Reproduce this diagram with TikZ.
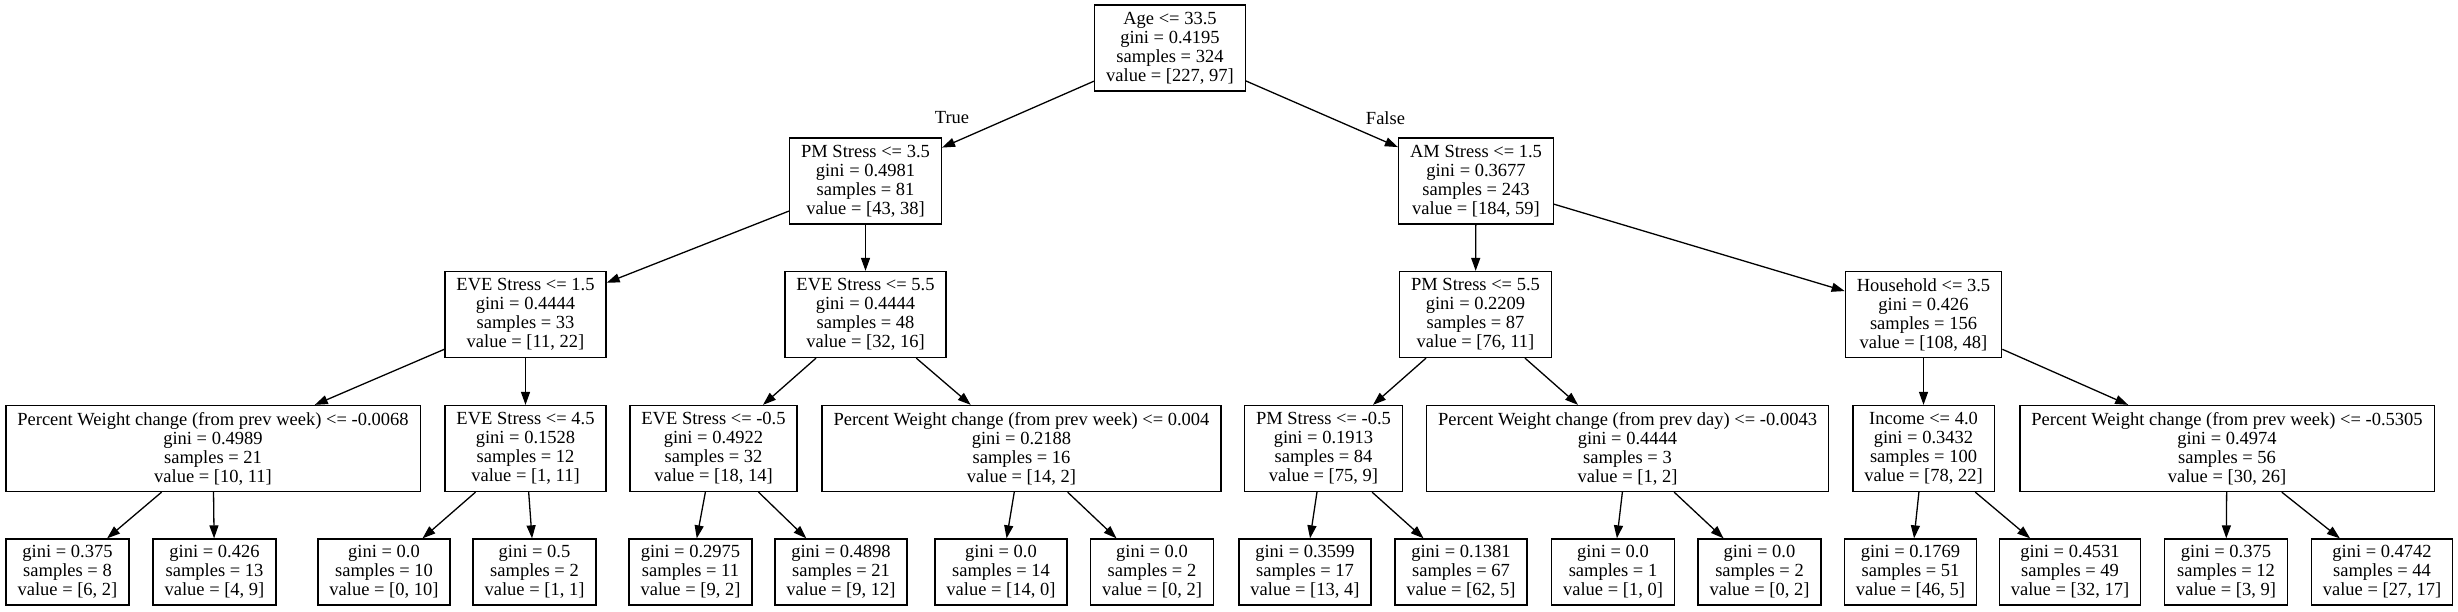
\documentclass[tikz,border=0pt]{standalone}
\usepackage{fontspec}
\setmainfont{Liberation Serif}
\usetikzlibrary{arrows.meta}

\begin{document}
\begin{tikzpicture}[x=1pt,y=-1pt,
    box/.style={draw,line width=1.3pt,align=center,inner xsep=11.5pt,inner ysep=2pt,font=\fontsize{18.5}{19}\selectfont},
    split/.style={box,minimum height=86pt},
    leaf/.style={box,minimum height=66pt},
    edge/.style={draw,line width=1.3pt,-{Triangle[length=13pt,width=9pt]}}]
      \useasboundingbox[fill=white] (0,0) rectangle (2458,611);
      \node[split] (root) at (1170,48) {Age <= 33.5\\gini = 0.4195\\samples = 324\\value = [227, 97]};
      \node[split] (pm1) at (865.5,181) {PM Stress <= 3.5\\gini = 0.4981\\samples = 81\\value = [43, 38]};
      \node[split] (am1) at (1476,181) {AM Stress <= 1.5\\gini = 0.3677\\samples = 243\\value = [184, 59]};
      \node[split] (eve1) at (525.5,314.5) {EVE Stress <= 1.5\\gini = 0.4444\\samples = 33\\value = [11, 22]};
      \node[split] (eve2) at (865.5,314.5) {EVE Stress <= 5.5\\gini = 0.4444\\samples = 48\\value = [32, 16]};
      \node[split] (pm2) at (1475.5,314.5) {PM Stress <= 5.5\\gini = 0.2209\\samples = 87\\value = [76, 11]};
      \node[split] (hh) at (1923.5,314.5) {Household <= 3.5\\gini = 0.426\\samples = 156\\value = [108, 48]};
      \node[split] (pw1) at (213,448.5) {Percent Weight change (from prev week) <= -0.0068\\gini = 0.4989\\samples = 21\\value = [10, 11]};
      \node[split] (eve3) at (525.5,448.5) {EVE Stress <= 4.5\\gini = 0.1528\\samples = 12\\value = [1, 11]};
      \node[split] (eve4) at (713.5,448.5) {EVE Stress <= -0.5\\gini = 0.4922\\samples = 32\\value = [18, 14]};
      \node[split] (pw2) at (1021.5,448.5) {Percent Weight change (from prev week) <= 0.004\\gini = 0.2188\\samples = 16\\value = [14, 2]};
      \node[split] (pm3) at (1323.5,448.5) {PM Stress <= -0.5\\gini = 0.1913\\samples = 84\\value = [75, 9]};
      \node[split] (pwd) at (1627.5,448.5) {Percent Weight change (from prev day) <= -0.0043\\gini = 0.4444\\samples = 3\\value = [1, 2]};
      \node[split] (inc) at (1923.5,448.5) {Income <= 4.0\\gini = 0.3432\\samples = 100\\value = [78, 22]};
      \node[split] (pw3) at (2227,448.5) {Percent Weight change (from prev week) <= -0.5305\\gini = 0.4974\\samples = 56\\value = [30, 26]};
      \node[leaf] (l1) at (67.5,572) {gini = 0.375\\samples = 8\\value = [6, 2]};
      \node[leaf] (l2) at (214.5,572) {gini = 0.426\\samples = 13\\value = [4, 9]};
      \node[leaf] (l3) at (384,572) {gini = 0.0\\samples = 10\\value = [0, 10]};
      \node[leaf] (l4) at (534.5,572) {gini = 0.5\\samples = 2\\value = [1, 1]};
      \node[leaf] (l5) at (690.5,572) {gini = 0.2975\\samples = 11\\value = [9, 2]};
      \node[leaf] (l6) at (841,572) {gini = 0.4898\\samples = 21\\value = [9, 12]};
      \node[leaf] (l7) at (1001,572) {gini = 0.0\\samples = 14\\value = [14, 0]};
      \node[leaf] (l8) at (1152,572) {gini = 0.0\\samples = 2\\value = [0, 2]};
      \node[leaf] (l9) at (1305,572) {gini = 0.3599\\samples = 17\\value = [13, 4]};
      \node[leaf] (l10) at (1461,572) {gini = 0.1381\\samples = 67\\value = [62, 5]};
      \node[leaf] (l11) at (1613,572) {gini = 0.0\\samples = 1\\value = [1, 0]};
      \node[leaf] (l12) at (1759.5,572) {gini = 0.0\\samples = 2\\value = [0, 2]};
      \node[leaf] (l13) at (1910.5,572) {gini = 0.1769\\samples = 51\\value = [46, 5]};
      \node[leaf] (l14) at (2070,572) {gini = 0.4531\\samples = 49\\value = [32, 17]};
      \node[leaf] (l15) at (2226,572) {gini = 0.375\\samples = 12\\value = [3, 9]};
      \node[leaf] (l16) at (2382,572) {gini = 0.4742\\samples = 44\\value = [27, 17]};
      \node[font=\fontsize{18.5}{19}\selectfont] (lbltrue) at (952,118) {True};
      \node[font=\fontsize{18.5}{19}\selectfont] (lblfalse) at (1385.5,118) {False};
      \path[edge] (root) -- (pm1);
      \path[edge] (root) -- (am1);
      \path[edge] (pm1) -- (eve1);
      \path[edge] (pm1) -- (eve2);
      \path[edge] (am1) -- (pm2);
      \path[edge] (am1) -- (hh);
      \path[edge] (eve1) -- (pw1);
      \path[edge] (eve1) -- (eve3);
      \path[edge] (eve2) -- (eve4);
      \path[edge] (eve2) -- (pw2);
      \path[edge] (pm2) -- (pm3);
      \path[edge] (pm2) -- (pwd);
      \path[edge] (hh) -- (inc);
      \path[edge] (hh) -- (pw3);
      \path[edge] (pw1) -- (l1);
      \path[edge] (pw1) -- (l2);
      \path[edge] (eve3) -- (l3);
      \path[edge] (eve3) -- (l4);
      \path[edge] (eve4) -- (l5);
      \path[edge] (eve4) -- (l6);
      \path[edge] (pw2) -- (l7);
      \path[edge] (pw2) -- (l8);
      \path[edge] (pm3) -- (l9);
      \path[edge] (pm3) -- (l10);
      \path[edge] (pwd) -- (l11);
      \path[edge] (pwd) -- (l12);
      \path[edge] (inc) -- (l13);
      \path[edge] (inc) -- (l14);
      \path[edge] (pw3) -- (l15);
      \path[edge] (pw3) -- (l16);
\end{tikzpicture}
\end{document}
